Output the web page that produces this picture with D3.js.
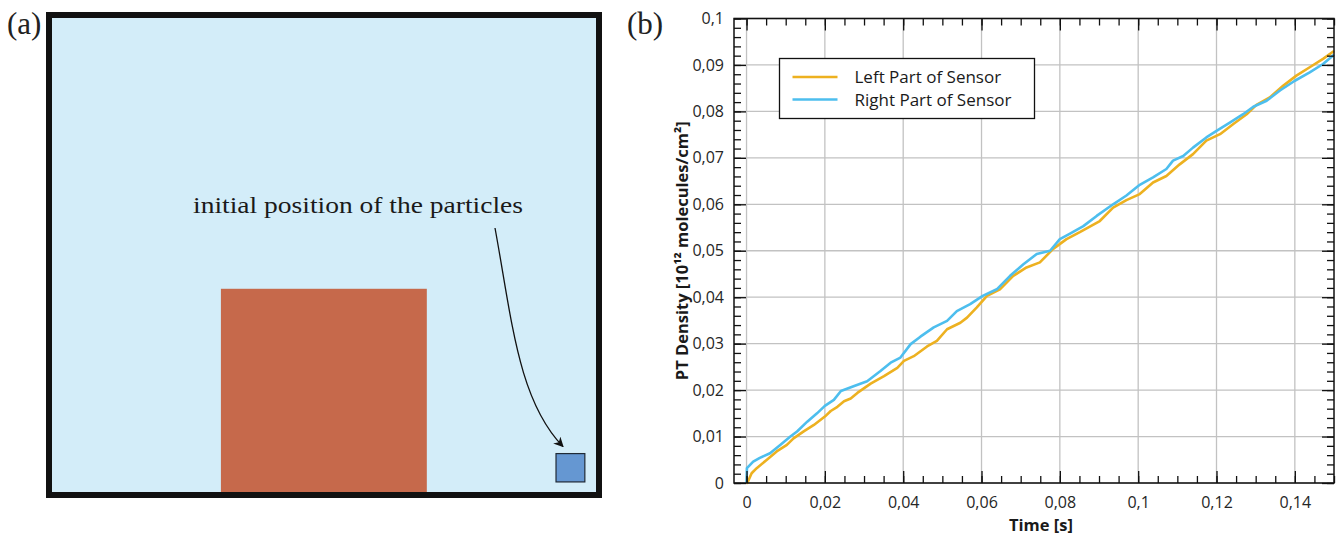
<!DOCTYPE html>
<html>
<head>
<meta charset="utf-8">
<script src="https://cdn.jsdelivr.net/npm/d3@7"></script>
<style>
    body { margin: 0; background: #fff; }
    svg { display: block; }
</style>
</head>
<body>
<svg id="svg_figure" width="1342" height="538"></svg>
<script>

/* Data */

// Panel (a): schematic geometry, in domain units (inner box is 100 x 87)
const domainSize = [100, 87];
const obstacleX = [31.05, 68.9];
const obstacleY = [0, 37.3];
const particleX = [92.65, 97.95];
const particleY = [1.85, 7.05];
const annotationText = 'initial position of the particles';

// Panel (b): PT density over time
const leftTime = [0, 0.0002, 0.0013, 0.0026, 0.0052, 0.0077, 0.0103, 0.012, 0.0146, 0.0172,
    0.02, 0.0215, 0.0232, 0.0249, 0.0266, 0.0283, 0.0317, 0.0351, 0.0385, 0.0402,
    0.0427, 0.0461, 0.0486, 0.0512, 0.0546, 0.0563, 0.0588, 0.0614, 0.0647, 0.0681,
    0.0715, 0.0749, 0.0783, 0.0817, 0.0851, 0.0902, 0.0936, 0.097, 0.1004, 0.1038,
    0.1072, 0.1106, 0.114, 0.1174, 0.1209, 0.1243, 0.1277, 0.1302, 0.1336, 0.137,
    0.1404, 0.1438, 0.1472, 0.15];
const leftDensity = [0, 0, 0.0021, 0.0032, 0.005, 0.0068, 0.0082, 0.0096, 0.0111, 0.0125,
    0.0143, 0.0155, 0.0164, 0.0176, 0.0182, 0.0194, 0.0214, 0.023, 0.0248, 0.0263,
    0.0273, 0.0294, 0.0306, 0.0331, 0.0345, 0.0356, 0.0378, 0.0403, 0.0417, 0.0446,
    0.0464, 0.0475, 0.0504, 0.0525, 0.054, 0.0564, 0.0593, 0.0609, 0.0622, 0.0647,
    0.0661, 0.0686, 0.0708, 0.0737, 0.0751, 0.0773, 0.0794, 0.0814, 0.083, 0.0855,
    0.0877, 0.0895, 0.0913, 0.093];

const rightTime = [0, 0.0001, 0.0017, 0.0034, 0.006, 0.0086, 0.0112, 0.0129, 0.0155, 0.018,
    0.02, 0.0223, 0.0241, 0.0275, 0.0308, 0.0342, 0.0368, 0.0393, 0.0419, 0.0444,
    0.0478, 0.0512, 0.0537, 0.0571, 0.0603, 0.0639, 0.0673, 0.0707, 0.0741, 0.0775,
    0.08, 0.0826, 0.086, 0.0894, 0.0936, 0.097, 0.1004, 0.1038, 0.1072, 0.1089,
    0.1115, 0.114, 0.1174, 0.12, 0.1234, 0.1268, 0.1294, 0.1328, 0.1362, 0.14,
    0.1438, 0.1472, 0.15];
const rightDensity = [0, 0.0032, 0.0046, 0.0054, 0.0064, 0.0082, 0.01, 0.0111, 0.0132, 0.015,
    0.0166, 0.0179, 0.0198, 0.0209, 0.0219, 0.0241, 0.0259, 0.027, 0.0299, 0.0315,
    0.0335, 0.0349, 0.037, 0.0385, 0.0403, 0.0417, 0.0446, 0.0471, 0.0493, 0.05,
    0.0525, 0.0537, 0.0553, 0.0575, 0.06, 0.0619, 0.0642, 0.0658, 0.0676, 0.0694,
    0.0704, 0.0722, 0.0744, 0.0758, 0.0776, 0.0794, 0.081, 0.0823, 0.0845, 0.0866,
    0.0884, 0.0902, 0.0922];

const seriesNames = ['Left Part of Sensor', 'Right Part of Sensor'];
const seriesColors = ['#EDB120', '#4DBEEE'];

const xTicks = [0, 0.02, 0.04, 0.06, 0.08, 0.1, 0.12, 0.14];
const yTicks = [0, 0.01, 0.02, 0.03, 0.04, 0.05, 0.06, 0.07, 0.08, 0.09, 0.1];

class Figure {

    constructor() {
        this.svg = d3.select('#svg_figure');
        this.fmt = d => String(d).replace('.', ',');

        // Panel (a) scales
        this.xA = d3.scaleLinear().domain([0, domainSize[0]]).range([52, 596]);
        this.yA = d3.scaleLinear().domain([0, domainSize[1]]).range([492, 18]);

        // Panel (b) scales
        this.left = 734; this.right = 1334; this.top = 18.5; this.bottom = 483;
        this.xScale = d3.scaleLinear().domain([-0.0032, 0.15]).range([this.left, this.right]);
        this.yScale = d3.scaleLinear().domain([0, 0.1]).range([this.bottom, this.top]);
    }

    draw() {
        this.drawPanelA();
        this.drawPanelB();
    }

    //#region Panel (a)

    drawPanelA() {
        let svg = this.svg;
        let g = svg.append('g');

        g.append('text').attr('x', 7).attr('y', 34)
            .attr('font-family', 'Liberation Serif, serif').attr('font-size', 31)
            .attr('fill', '#222').text('(a)');

        g.append('rect')
            .attr('x', this.xA(0) - 3).attr('y', this.yA(domainSize[1]) - 3)
            .attr('width', this.xA(domainSize[0]) - this.xA(0) + 6)
            .attr('height', this.yA(0) - this.yA(domainSize[1]) + 6)
            .attr('fill', '#d3edf9').attr('stroke', '#111').attr('stroke-width', 6);

        g.append('rect')
            .attr('x', this.xA(obstacleX[0])).attr('y', this.yA(obstacleY[1]))
            .attr('width', this.xA(obstacleX[1]) - this.xA(obstacleX[0]))
            .attr('height', this.yA(obstacleY[0]) - this.yA(obstacleY[1]))
            .attr('fill', '#c6694b');

        g.append('rect')
            .attr('x', this.xA(particleX[0])).attr('y', this.yA(particleY[1]))
            .attr('width', this.xA(particleX[1]) - this.xA(particleX[0]))
            .attr('height', this.yA(particleY[0]) - this.yA(particleY[1]))
            .attr('fill', '#6597d2').attr('stroke', '#1f2a36').attr('stroke-width', 1.2);

        g.append('text').attr('x', 193).attr('y', 213)
            .attr('font-family', 'Liberation Serif, serif').attr('font-size', 24)
            .attr('textLength', 330).attr('lengthAdjust', 'spacingAndGlyphs')
            .attr('fill', '#1a1a1a').text(annotationText);

        // Curved arrow towards the particles
        svg.append('defs').append('marker')
            .attr('id', 'arrowhead').attr('viewBox', '0 0 10 10')
            .attr('refX', 9).attr('refY', 5)
            .attr('markerWidth', 10).attr('markerHeight', 10)
            .attr('markerUnits', 'userSpaceOnUse').attr('orient', 'auto')
            .append('path').attr('d', 'M0,0 L10,5 L0,10 L3,5 Z').attr('fill', '#111');

        let tip = [this.xA(particleX[0]) + 7, this.yA(particleY[1]) - 7];
        let path = d3.path();
        path.moveTo(495, 228);
        path.bezierCurveTo(512, 320, 518, 400, tip[0], tip[1]);
        g.append('path').attr('d', path.toString())
            .attr('fill', 'none').attr('stroke', '#111').attr('stroke-width', 1.3)
            .attr('marker-end', 'url(#arrowhead)');
    }

    //#endregion

    //#region Panel (b)

    drawPanelB() {
        let svg = this.svg;
        let font = 'Open Sans, Noto Sans, sans-serif';

        svg.append('text').attr('x', 627).attr('y', 34)
            .attr('font-family', 'Liberation Serif, serif').attr('font-size', 31)
            .attr('fill', '#222').text('(b)');

        // Grid
        let grid = svg.append('g').attr('stroke', '#c2c2c2').attr('stroke-width', 1.3);
        xTicks.forEach(t => {
            grid.append('line').attr('x1', this.xScale(t)).attr('x2', this.xScale(t))
                .attr('y1', this.top).attr('y2', this.bottom);
        });
        yTicks.forEach(t => {
            grid.append('line').attr('x1', this.left).attr('x2', this.right)
                .attr('y1', this.yScale(t)).attr('y2', this.yScale(t));
        });

        // Lines
        let line = d3.line().x(d => this.xScale(d[0])).y(d => this.yScale(d[1]));
        let series = [
            d3.zip(leftTime, leftDensity),
            d3.zip(rightTime, rightDensity)
        ];
        series.forEach((s, i) => {
            svg.append('path').datum(s)
                .attr('fill', 'none').attr('stroke', seriesColors[i])
                .attr('stroke-width', 2.6).attr('stroke-linejoin', 'round')
                .attr('d', line);
        });

        // Axes (mirrored on all four sides, ticks inward)
        let xMinor = d3.range(0, 0.1501, 0.005);
        let yMinor = d3.range(0, 0.1001, 0.002);

        let bottomAxis = d3.axisBottom(this.xScale).tickValues(xTicks)
            .tickFormat(this.fmt).tickSize(-12).tickPadding(14);
        let bottomMinor = d3.axisBottom(this.xScale).tickValues(xMinor)
            .tickFormat('').tickSize(-7);
        let topAxis = d3.axisTop(this.xScale).tickValues(xTicks)
            .tickFormat('').tickSize(-12);
        let topMinor = d3.axisTop(this.xScale).tickValues(xMinor)
            .tickFormat('').tickSize(-7);
        let leftAxis = d3.axisLeft(this.yScale).tickValues(yTicks)
            .tickFormat(this.fmt).tickSize(-12).tickPadding(10);
        let leftMinor = d3.axisLeft(this.yScale).tickValues(yMinor)
            .tickFormat('').tickSize(-7);
        let rightAxis = d3.axisRight(this.yScale).tickValues(yTicks)
            .tickFormat('').tickSize(-12);
        let rightMinor = d3.axisRight(this.yScale).tickValues(yMinor)
            .tickFormat('').tickSize(-7);

        let addAxis = (axis, tx, ty) => {
            let a = svg.append('g').attr('transform', `translate(${tx}, ${ty})`).call(axis);
            a.select('.domain').remove();
            a.selectAll('line').attr('stroke', '#111').attr('stroke-width', 1.3);
            a.selectAll('text').attr('font-family', font).attr('font-size', 16).attr('fill', '#262626');
            return a;
        };
        addAxis(bottomMinor, 0, this.bottom);
        addAxis(bottomAxis, 0, this.bottom);
        addAxis(topMinor, 0, this.top);
        addAxis(topAxis, 0, this.top);
        addAxis(leftMinor, this.left, 0);
        addAxis(leftAxis, this.left, 0);
        addAxis(rightMinor, this.right, 0);
        addAxis(rightAxis, this.right, 0);

        // Frame
        svg.append('rect').attr('x', this.left).attr('y', this.top)
            .attr('width', this.right - this.left).attr('height', this.bottom - this.top)
            .attr('fill', 'none').attr('stroke', '#111').attr('stroke-width', 1.5);

        // Axis labels
        svg.append('text').attr('x', (this.left + this.right) / 2 + 7).attr('y', 531)
            .attr('text-anchor', 'middle').attr('font-family', font)
            .attr('font-size', 16.5).attr('font-weight', 'bold').attr('fill', '#1a1a1a')
            .text('Time [s]');
        svg.append('text')
            .attr('transform', `translate(688, ${(this.top + this.bottom) / 2}) rotate(-90)`)
            .attr('text-anchor', 'middle').attr('font-family', font)
            .attr('font-size', 16.5).attr('font-weight', 'bold').attr('fill', '#1a1a1a')
            .text('PT Density [10¹² molecules/cm²]');

        this.drawLegend(font);
    }

    drawLegend(font) {
        let svg = this.svg;
        let g = svg.append('g').attr('transform', 'translate(779.5, 58.5)');
        g.append('rect').attr('width', 255).attr('height', 60)
            .attr('fill', '#fff').attr('stroke', '#111').attr('stroke-width', 1.3);
        seriesNames.forEach((name, i) => {
            let y = 18.5 + i * 22.5;
            g.append('line').attr('x1', 13).attr('x2', 58).attr('y1', y).attr('y2', y)
                .attr('stroke', seriesColors[i]).attr('stroke-width', 2.6);
            g.append('text').attr('x', 75).attr('y', y + 6)
                .attr('font-family', font).attr('font-size', 17).attr('fill', '#1a1a1a')
                .text(name);
        });
    }

    //#endregion
}

let figure = new Figure();
figure.draw();

</script>
</body>
</html>
